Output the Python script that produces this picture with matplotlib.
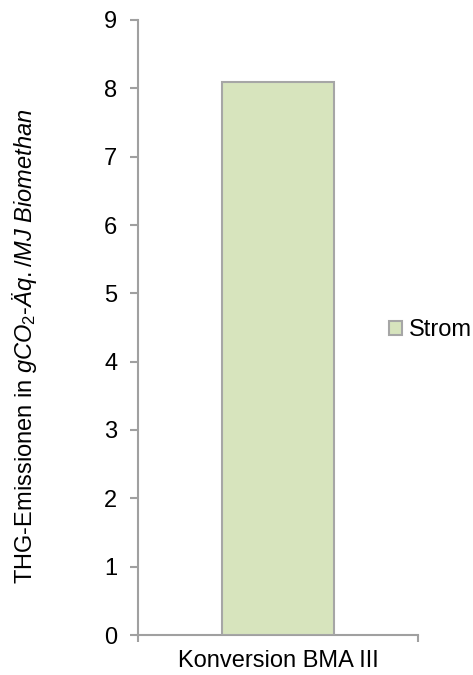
import matplotlib
matplotlib.use("Agg")
import matplotlib.pyplot as plt

plt.rcParams['font.family'] = ['Liberation Sans', 'DejaVu Sans']
plt.rcParams['mathtext.fontset'] = 'custom'
plt.rcParams['mathtext.rm'] = 'Liberation Sans'
plt.rcParams['mathtext.it'] = 'Liberation Sans:italic'

categories = ["Konversion BMA III"]
strom = [8.1]
yticks = [0, 1, 2, 3, 4, 5, 6, 7, 8, 9]

axis_col = '#a0a0a0'
fs = 17

fig = plt.figure(figsize=(4.73, 6.75), dpi=100)
ax = fig.add_axes([138/473, 1 - 635/675, 280/473, 615/675])

ax.bar(range(len(categories)), strom, width=0.4, color='#d7e4bd',
       edgecolor='#a6a6a6', linewidth=1.5, label='Strom', zorder=3)

ax.set_xlim(-0.5, 0.5)
ax.set_ylim(0, 9)
ax.set_yticks(yticks)
ax.set_xticks(range(len(categories)))
ax.set_xticklabels(categories)
ax.set_xticks([-0.5, 0.5], minor=True)

for s in ['top', 'right']:
    ax.spines[s].set_visible(False)
for s in ['left', 'bottom']:
    ax.spines[s].set_color(axis_col)
    ax.spines[s].set_linewidth(1.5)

ax.tick_params(axis='y', direction='out', length=6, width=1.5, color=axis_col,
               labelsize=fs, pad=9)
ax.tick_params(axis='x', which='major', length=0, labelsize=fs, pad=11)
ax.tick_params(axis='x', which='minor', direction='out', length=5, width=1.5,
               color=axis_col)

ax.set_ylabel("THG-Emissionen in $\\mathit{gCO_2}$$\\mathit{‐Äq./MJ\\ Biomethan}$",
              fontsize=fs)
ax.yaxis.set_label_coords(-99/280, 0.47)

leg = fig.legend(loc='center left', bbox_to_anchor=(389/473, 1 - 330/675),
                 frameon=False, fontsize=fs, handlelength=0.55, handleheight=0.55,
                 handletextpad=0.3, borderaxespad=0, borderpad=0)

fig.savefig("out.png", dpi=100)
